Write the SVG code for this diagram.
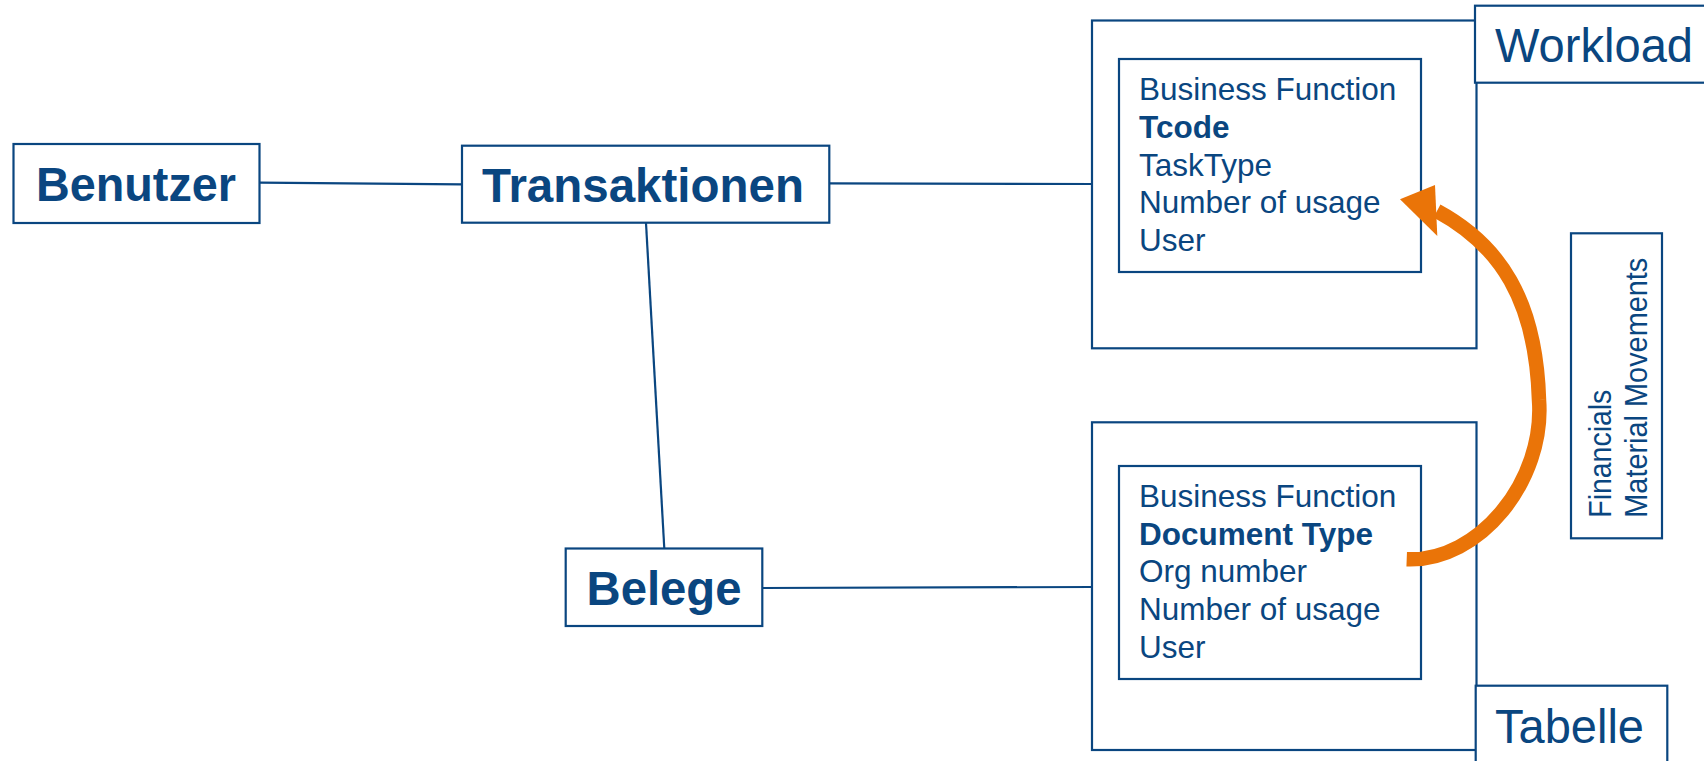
<svg xmlns="http://www.w3.org/2000/svg" width="1704" height="761" viewBox="0 0 1704 761">
<style>
  .box { fill: #ffffff; stroke: #0A4680; stroke-width: 2.2; }
  .ln { fill: none; stroke: #0A4680; stroke-width: 2.2; }
  .big { font-family: "Liberation Sans", Arial, sans-serif; font-weight: bold; font-size: 48px; fill: #0A4680; }
  .lbl { font-family: "Liberation Sans", Arial, sans-serif; font-size: 48px; fill: #0A4680; }
  .lst { font-family: "Liberation Sans", Arial, sans-serif; font-size: 31.5px; fill: #0A4680; }
  .b { font-weight: bold; }
  .rot { font-family: "Liberation Sans", Arial, sans-serif; font-size: 31px; fill: #0A4680; }
</style>
<rect width="1704" height="761" fill="#ffffff"/>

<g id="connectors">
  <line class="ln" x1="260" y1="182.7" x2="462" y2="184.3"/>
  <line class="ln" x1="829" y1="183.3" x2="1092" y2="184"/>
  <line class="ln" x1="646" y1="223" x2="664.3" y2="548.5"/>
  <line class="ln" x1="762" y1="588" x2="1092" y2="587"/>
</g>

<g id="benutzer">
  <rect class="box" x="13.5" y="144" width="246" height="79"/>
  <text class="big" x="136" y="201" text-anchor="middle" textLength="200" lengthAdjust="spacingAndGlyphs">Benutzer</text>
</g>

<g id="transaktionen">
  <rect class="box" x="462" y="145.7" width="367.3" height="77"/>
  <text class="big" x="643" y="201.7" text-anchor="middle" textLength="322" lengthAdjust="spacingAndGlyphs">Transaktionen</text>
</g>

<g id="belege">
  <rect class="box" x="565.7" y="548.5" width="196.6" height="77.5"/>
  <text class="big" x="664" y="604.5" text-anchor="middle" textLength="155" lengthAdjust="spacingAndGlyphs">Belege</text>
</g>

<g id="workload">
  <rect class="box" x="1092" y="20.5" width="384.5" height="327.8"/>
  <rect class="box" x="1119" y="59" width="302" height="213"/>
  <text class="lst" x="1139" y="100">Business Function</text>
  <text class="lst b" x="1139" y="137.8">Tcode</text>
  <text class="lst" x="1139" y="175.6">TaskType</text>
  <text class="lst" x="1139" y="213.4">Number of usage</text>
  <text class="lst" x="1139" y="251.2">User</text>
  <rect class="box" x="1475" y="5.7" width="240" height="77"/>
  <text class="lbl" x="1495" y="61.7" textLength="198" lengthAdjust="spacingAndGlyphs">Workload</text>
</g>

<g id="tabelle">
  <rect class="box" x="1092" y="422.3" width="384.5" height="327.7"/>
  <rect class="box" x="1119" y="466" width="302" height="213"/>
  <text class="lst" x="1139" y="506.6">Business Function</text>
  <text class="lst b" x="1139" y="544.5">Document Type</text>
  <text class="lst" x="1139" y="582.4">Org number</text>
  <text class="lst" x="1139" y="620.3">Number of usage</text>
  <text class="lst" x="1139" y="658.2">User</text>
  <rect class="box" x="1475.7" y="685.7" width="191.6" height="90"/>
  <text class="lbl" x="1495" y="742.7" textLength="149" lengthAdjust="spacingAndGlyphs">Tabelle</text>
</g>

<g id="bereiche">
  <rect class="box" x="1571" y="233.3" width="91" height="305"/>
  <text class="rot" transform="translate(1611,517.7) rotate(-90)" textLength="128" lengthAdjust="spacingAndGlyphs">Financials</text>
  <text class="rot" transform="translate(1646.7,517.7) rotate(-90)" textLength="260" lengthAdjust="spacingAndGlyphs">Material Movements</text>
</g>

<g id="pfeil">
  <path d="M1406.7,559.3 C1480,562 1545,480 1539,400 C1536,300 1500,245 1437,211" fill="none" stroke="#EA7408" stroke-width="14.5"/>
  <polygon points="1400,199.3 1435,185 1437.3,236" fill="#EA7408"/>
</g>
</svg>
